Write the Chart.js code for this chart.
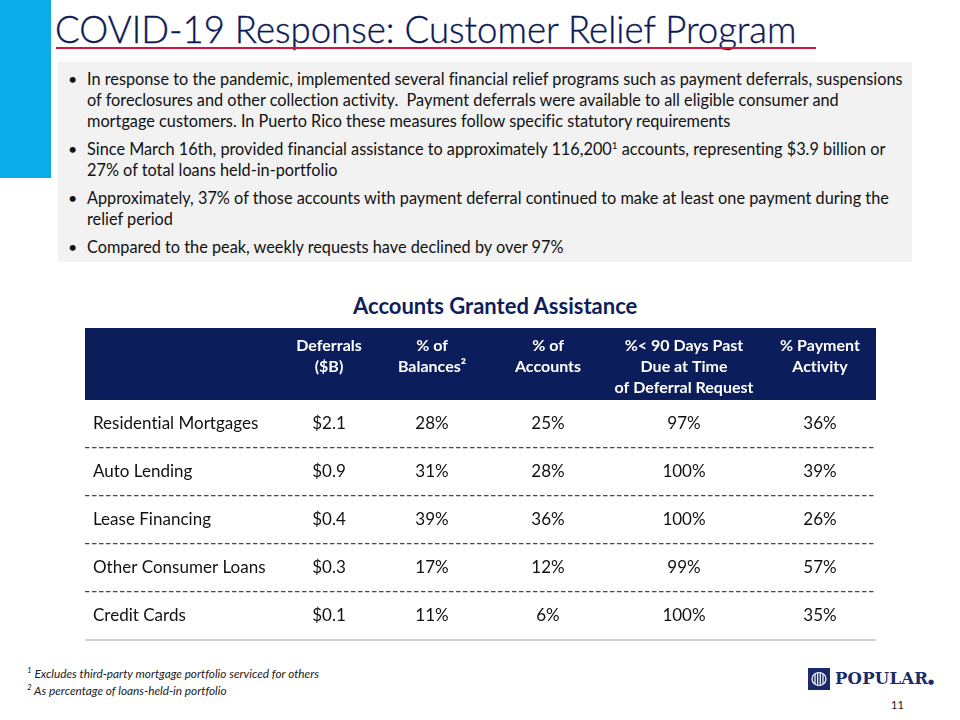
<!DOCTYPE html>
<html>
<head>
<meta charset="utf-8">
<script src="https://cdn.jsdelivr.net/npm/chart.js@4.4.1/dist/chart.umd.min.js"></script>
<style>
  html, body { margin:0; padding:0; background:#fff; }
  body { width:960px; height:720px; position:relative; overflow:hidden; font-family: Lato, "Open Sans", sans-serif; font-variant-ligatures: none; }
  .bar { position:absolute; left:0; top:0; width:51px; height:178px; background:#0AADEA; }
  .title { position:absolute; left:55px; top:6px; font-size:36.6px; font-weight:300; color:#0B1A55; white-space:nowrap; line-height:46px; -webkit-text-stroke:0.35px #0B1A55; }
  .rule { position:absolute; left:56px; top:47px; width:760px; height:2px; background:#D2143A; }
  .box { position:absolute; left:58px; top:62px; width:854px; height:200px; background:#F2F2F2; }
  .box p { position:relative; margin:0 0 7px 0; padding-left:29px; font-size:16.3px; line-height:21px; color:#111; white-space:nowrap; }
  .box p:first-child { margin-top:6px; }
  .box p::before { content:"\2022"; position:absolute; left:10px; top:0; font-size:16px; }
  sup { font-size:10px; line-height:0; vertical-align: 6px; }
  .ttl { position:absolute; left:353px; top:292px; font-size:22px; font-weight:700; color:#0F1E5A; line-height:28px; white-space:nowrap; }
  .chartwrap { position:absolute; left:85px; top:328px; width:791px; height:316px; }
  .foot { position:absolute; left:27px; top:665px; font-size:11.8px; font-style:italic; line-height:17px; color:#1a1a1a; }
  .foot sup { font-size:8px; vertical-align:5px; }
  .logo { position:absolute; left:808px; top:668px; width:22px; height:22px; background:#1B2A6B; }
  .logotext { position:absolute; left:835px; top:668px; font-family:"DejaVu Serif", "Liberation Serif", serif; font-weight:700; font-size:16.5px; color:#1B2A6B; line-height:22px; letter-spacing:0.2px; }
  .logotext span { font-size:7px; }
  .pg { position:absolute; left:891px; top:698px; font-size:11px; color:#1a1a1a; }
</style>
</head>
<body>
<div class="bar"></div>
<div class="title">COVID-19 Response: Customer Relief Program</div>
<div class="rule"></div>
<div class="box">
  <p>In response to the pandemic, implemented several financial relief programs such as payment deferrals, suspensions<br>of foreclosures and other collection activity.&nbsp; Payment deferrals were available to all eligible consumer and<br>mortgage customers. In Puerto Rico these measures follow specific statutory requirements</p>
  <p>Since March 16th, provided financial assistance to approximately 116,200<sup>1</sup> accounts, representing $3.9 billion or<br>27% of total loans held-in-portfolio</p>
  <p>Approximately, 37% of those accounts with payment deferral continued to make at least one payment during the<br>relief period</p>
  <p>Compared to the peak, weekly requests have declined by over 97%</p>
</div>
<div class="ttl">Accounts Granted Assistance</div>
<div class="chartwrap"><canvas id="c"></canvas></div>
<div class="foot"><sup>1</sup> Excludes third-party mortgage portfolio serviced for others<br><sup>2</sup> As percentage of loans-held-in portfolio</div>
<div class="logo">
  <svg width="22" height="22" viewBox="0 0 22 22"><g fill="none" stroke="#fff" stroke-width="1.2">
    <ellipse cx="11" cy="11" rx="7" ry="6.5"/>
    <line x1="7" y1="6" x2="7" y2="16"/><line x1="9.7" y1="5" x2="9.7" y2="17"/><line x1="12.3" y1="5" x2="12.3" y2="17"/><line x1="15" y1="6" x2="15" y2="16"/>
  </g></svg>
</div>
<div class="logotext">POPULAR<span>&#9679;</span></div>
<div class="pg">11</div>

<script>
// ---- Data ----
const categories = ['Residential Mortgages', 'Auto Lending', 'Lease Financing', 'Other Consumer Loans', 'Credit Cards'];
const columnHeaders = [
  ['Deferrals', '($B)'],
  ['% of', 'Balances\u00B2'],
  ['% of', 'Accounts'],
  ['%< 90 Days Past', 'Due at Time', 'of Deferral Request'],
  ['% Payment', 'Activity']
];
const deferralsB = [2.1, 0.9, 0.4, 0.3, 0.1];
const pctBalances = [28, 31, 39, 17, 11];
const pctAccounts = [25, 28, 36, 12, 6];
const pctCurrent = [97, 100, 100, 99, 100];
const pctPayment = [36, 39, 26, 57, 35];

// ---- Layout (column anchors on the table's x scale) ----
const labelColumnX = 93;
const columnCenters = [329, 432, 548, 684, 820];

const columnValues = [
  deferralsB.map(v => '$' + v.toFixed(1)),
  pctBalances.map(v => v + '%'),
  pctAccounts.map(v => v + '%'),
  pctCurrent.map(v => v + '%'),
  pctPayment.map(v => v + '%')
];

const datasets = [{
  label: 'Category',
  data: categories.map(c => ({ x: labelColumnX, y: c })),
  cellText: categories,
  cellAlign: 'left',
  pointRadius: 0, pointHoverRadius: 0
}].concat(columnValues.map((vals, ci) => ({
  label: columnHeaders[ci].join(' '),
  data: categories.map(c => ({ x: columnCenters[ci], y: c })),
  cellText: vals,
  cellAlign: 'center',
  pointRadius: 0, pointHoverRadius: 0
})));

const tablePlugin = {
  id: 'tablePlugin',
  beforeDraw(chart) {
    const { ctx, chartArea, scales } = chart;
    const x = scales.x;
    ctx.save();
    ctx.fillStyle = '#0C1D5C';
    ctx.fillRect(chartArea.left, x.top, chartArea.right - chartArea.left, x.bottom - x.top);
    ctx.restore();
  },
  afterDatasetsDraw(chart) {
    const { ctx } = chart;
    ctx.save();
    ctx.font = '17px Lato, "Open Sans", sans-serif';
    if ('letterSpacing' in ctx) ctx.letterSpacing = '0.01px';
    ctx.fillStyle = '#111111';
    ctx.textBaseline = 'middle';
    chart.data.datasets.forEach((ds, di) => {
      const meta = chart.getDatasetMeta(di);
      ctx.textAlign = ds.cellAlign;
      meta.data.forEach((el, i) => {
        ctx.fillText(ds.cellText[i], el.x, el.y);
      });
    });
    ctx.restore();
  }
};

new Chart(document.getElementById('c'), {
  type: 'scatter',
  data: { datasets },
  options: {
    responsive: true,
    maintainAspectRatio: false,
    animation: false,
    events: [],
    layout: { padding: 0 },
    plugins: { legend: { display: false }, tooltip: { enabled: false } },
    scales: {
      x: {
        type: 'linear',
        position: 'top',
        min: 85, max: 876,
        afterBuildTicks: s => { s.ticks = columnCenters.map(v => ({ value: v })); },
        afterFit: s => { s.height = 72; },
        grid: { display: false, drawTicks: false },
        border: { display: false },
        ticks: {
          autoSkip: false, maxRotation: 0, minRotation: 0,
          crossAlign: 'far',
          padding: 2,
          color: '#ffffff',
          font: { family: 'Lato, "Open Sans", sans-serif', size: 16, weight: 'bold', lineHeight: 1.3 },
          callback: (v, i) => columnHeaders[i]
        }
      },
      x2: {
        type: 'linear',
        position: 'bottom',
        min: 85, max: 876,
        afterFit: s => { s.height = 4; },
        grid: { display: false, drawTicks: false },
        border: { display: true, color: '#D0D0D0', width: 2 },
        ticks: { display: false }
      },
      y: {
        type: 'category',
        labels: categories,
        offset: true,
        afterFit: s => { s.width = 0; },
        ticks: { display: false },
        border: { display: false, dash: [4.5, 2.5] },
        grid: {
          display: true, drawTicks: false, offset: true, lineWidth: 1.3,
          color: c => (c.type !== 'tick' || c.index === 0) ? 'rgba(0,0,0,0)' : '#3E4963'
        }
      }
    }
  },
  plugins: [tablePlugin]
});
</script>
</body>
</html>
